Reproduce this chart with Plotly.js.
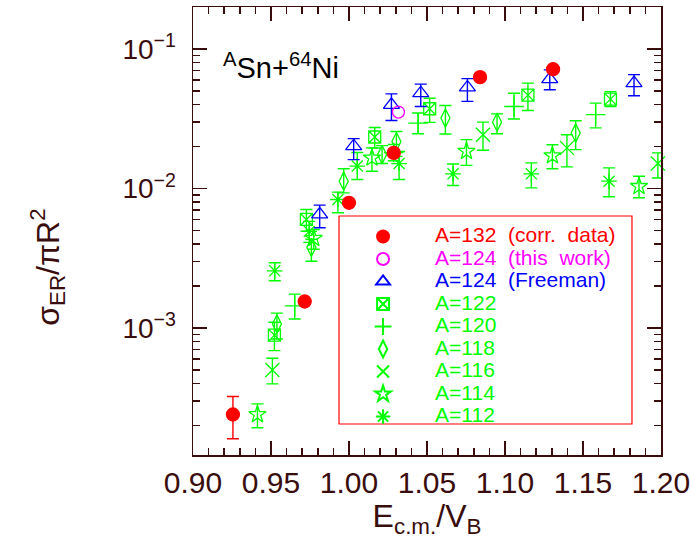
<!DOCTYPE html>
<html>
<head>
<meta charset="utf-8">
<script src="https://cdn.plot.ly/plotly-3.0.1.min.js"></script>
<style>html,body{margin:0;padding:0;background:#fff;}#chart{width:691px;height:552px;}</style>
</head>
<body>
<div id="chart"></div>
<script>
// ---- data ----
// A=132 (corr. data)
const a132X  = [0.9256, 0.9716, 1.0000, 1.0287, 1.0840, 1.1308];
const a132Y  = [2.40e-4, 1.55e-3, 7.9e-3, 0.0180, 0.0628, 0.0716];
const a132Hi = [3.23e-4, 1.55e-3, 7.9e-3, 0.0180, 0.0628, 0.0716];
const a132Lo = [1.61e-4, 1.55e-3, 7.9e-3, 0.0180, 0.0628, 0.0716];
// A=124 (this work)
const a124tX = [1.0317];
const a124tY = [0.0353];
// A=124 (Freeman)
const a124fX  = [0.9812, 1.0030, 1.0272, 1.0460, 1.0759, 1.1287, 1.1827];
const a124fY  = [6.52e-3, 0.0201, 0.0398, 0.0482, 0.0530, 0.0608, 0.0569];
const a124fHi = [7.6e-3, 0.0228, 0.0477, 0.0560, 0.0613, 0.0708, 0.0655];
const a124fLo = [5.24e-3, 0.0161, 0.0307, 0.0387, 0.0421, 0.0510, 0.0462];
// A=122
const a122X  = [0.9522, 0.9727, 1.0165, 1.0517, 1.1147, 1.1676];
const a122Y  = [8.9e-4, 6.0e-3, 0.0234, 0.0373, 0.0467, 0.0437];
const a122Hi = [1.10e-3, 7.08e-3, 0.0274, 0.0444, 0.0569, 0.0495];
const a122Lo = [6.89e-4, 4.95e-3, 0.0195, 0.0298, 0.0362, 0.0387];
// A=120
const a120X  = [0.9652, 1.0287, 1.0443, 1.1058, 1.1581];
const a120Y  = [1.44e-3, 0.0181, 0.0294, 0.0387, 0.0338];
const a120Hi = [1.75e-3, 0.0207, 0.0348, 0.0482, 0.0409];
const a120Lo = [1.16e-3, 0.0158, 0.0247, 0.0315, 0.0272];
// A=118
const a118X  = [0.9538, 0.9759, 0.9966, 1.0212, 1.0304, 1.0618, 1.0949, 1.1453];
const a118Y  = [1.07e-3, 3.79e-3, 0.01128, 0.0175, 0.0217, 0.0320, 0.0299, 0.0250];
const a118Hi = [1.28e-3, 4.33e-3, 0.01385, 0.0203, 0.0256, 0.0394, 0.0343, 0.0306];
const a118Lo = [8.34e-4, 3.01e-3, 9.3e-3, 0.0151, 0.0170, 0.0246, 0.0247, 0.0190];
// A=116
const a116X  = [0.9509, 1.0859, 1.1397, 1.1980];
const a116Y  = [5.0e-4, 0.0243, 0.01955, 0.0151];
const a116Hi = [6.08e-4, 0.0299, 0.0243, 0.0180];
const a116Lo = [3.98e-4, 0.0188, 0.0143, 0.0119];
// A=114
const a114X  = [0.9413, 0.9774, 1.0147, 1.0753, 1.1304, 1.1859];
const a114Y  = [2.40e-4, 4.40e-3, 0.01656, 0.0185, 0.0172, 0.01037];
const a114Hi = [2.86e-4, 5.09e-3, 0.01955, 0.0224, 0.0206, 0.01225];
const a114Lo = [1.93e-4, 3.67e-3, 0.01331, 0.01466, 0.01385, 8.59e-3];
// A=112
const a112X  = [0.9524, 0.9745, 0.9929, 1.0053, 1.0321, 1.0667, 1.1169, 1.1667];
const a112Y  = [2.57e-3, 4.93e-3, 8.34e-3, 0.01449, 0.0151, 0.01274, 0.01274, 0.01128];
const a112Hi = [2.94e-3, 5.81e-3, 9.42e-3, 0.0181, 0.0184, 0.0150, 0.01528, 0.01406];
const a112Lo = [2.18e-3, 4.11e-3, 6.70e-3, 0.0116, 0.0116, 0.0105, 0.0101, 8.73e-3];

// tick labels
const xTickVals = [0.90, 0.95, 1.00, 1.05, 1.10, 1.15, 1.20];
const xTickText = ['0.90', '0.95', '1.00', '1.05', '1.10', '1.15', '1.20'];
const yTickVals = [1e-3, 1e-2, 1e-1];
const yTickText = ['10<sup>\u22123</sup>', '10<sup>\u22122</sup>', '10<sup>\u22121</sup>'];

// ---- styling ----
const AX = '#3a0d0d';
const FONT = 'Liberation Sans, Arial, sans-serif';
const RED = '#ff0000', MAG = '#ff00ff', BLUE = '#0000ff', GREEN = '#00ff00';
const NB = '\u00a0';

function lab(txt, color) {
  return '<span style="color:' + color + ';font-size:21px">' + txt + '</span>';
}
function errs(y, hi, lo, color) {
  return {
    type: 'data', symmetric: false,
    array: y.map((v, i) => hi[i] - v),
    arrayminus: y.map((v, i) => v - lo[i]),
    color: color, thickness: 1.4, width: 6
  };
}
function series(x, y, hi, lo, color, symbol, size, name, rank) {
  const t = {
    type: 'scatter', mode: 'markers', x: x, y: y,
    name: lab(name, color), legendrank: rank,
    marker: { symbol: symbol, size: size, color: color, line: { color: color, width: 1.3 } },
    cliponaxis: false
  };
  if (hi) t.error_y = errs(y, hi, lo, color);
  return t;
}

const traces = [
  series(a112X, a112Y, a112Hi, a112Lo, GREEN, 'asterisk-open', 13, 'A=112', 9),
  series(a114X, a114Y, a114Hi, a114Lo, GREEN, 'star-open', 13, 'A=114', 8),
  series(a116X, a116Y, a116Hi, a116Lo, GREEN, 'x-thin-open', 14, 'A=116', 7),
  series(a118X, a118Y, a118Hi, a118Lo, GREEN, 'diamond-tall-open', 13, 'A=118', 6),
  series(a120X, a120Y, a120Hi, a120Lo, GREEN, 'cross-thin-open', 14, 'A=120', 5),
  series(a122X, a122Y, a122Hi, a122Lo, GREEN, 'square-x-open', 12, 'A=122', 4),
  series(a124fX, a124fY, a124fHi, a124fLo, BLUE, 'triangle-up-open', 14, 'A=124' + NB + NB + '(Freeman)', 3),
  series(a124tX, a124tY, null, null, MAG, 'circle-open', 12, 'A=124' + NB + NB + '(this' + NB + NB + 'work)', 2),
  series(a132X, a132Y, a132Hi, a132Lo, RED, 'circle', 13, 'A=132' + NB + NB + '(corr.' + NB + NB + 'data)', 1)
];

const yMinor = [];
for (let e = -4; e <= -1; e++) {
  for (let d = 2; d <= 9; d++) yMinor.push(d * Math.pow(10, e));
}

const layout = {
  width: 691, height: 552,
  margin: { l: 193, r: 30, t: 7, b: 97, pad: 0 },
  paper_bgcolor: '#ffffff', plot_bgcolor: '#ffffff',
  font: { family: FONT, color: AX },
  showlegend: true,
  legend: {
    x: 0.295, y: 0.524, xanchor: 'left', yanchor: 'top',
    bgcolor: 'rgba(0,0,0,0)', borderwidth: 0,
    font: { family: FONT, size: 15, color: AX },
    itemwidth: 94, itemsizing: 'constant', itemclick: false
  },
  xaxis: {
    range: [0.9, 1.2], tickmode: 'array', tickvals: xTickVals, ticktext: xTickText,
    ticks: 'inside', ticklen: 14, tickwidth: 1.5, tickcolor: AX,
    minor: { dtick: 0.01, tick0: 0.9, ticks: 'inside', ticklen: 7, tickwidth: 1.5, tickcolor: AX },
    showline: true, linecolor: AX, linewidth: 1.5, mirror: 'allticks',
    showgrid: false, zeroline: false,
    tickfont: { family: FONT, size: 30, color: AX },
    ticklabelstandoff: 0,
    title: { text: 'E<sub>c.m.</sub>/V<sub>B</sub>', font: { family: FONT, size: 32, color: AX }, standoff: 6 }
  },
  yaxis: {
    type: 'log', range: [-3.91, -0.699],
    tickmode: 'array', tickvals: yTickVals, ticktext: yTickText,
    ticks: 'inside', ticklen: 14, tickwidth: 1.5, tickcolor: AX,
    minor: { tickmode: 'array', tickvals: yMinor, ticks: 'inside', ticklen: 7, tickwidth: 1.5, tickcolor: AX },
    showline: true, linecolor: AX, linewidth: 1.5, mirror: 'allticks',
    showgrid: false, zeroline: false,
    tickfont: { family: FONT, size: 28, color: AX },
    ticklabelstandoff: 10
  },
  shapes: [{
    type: 'rect', xref: 'paper', yref: 'paper',
    x0: 0.312, x1: 0.938, y0: 0.0692, y1: 0.5335,
    line: { color: RED, width: 1.2 }, fillcolor: 'rgba(0,0,0,0)', layer: 'above'
  }],
  annotations: [
    {
      text: '<sup>A</sup>Sn+<sup>64</sup>Ni', xref: 'paper', yref: 'paper',
      x: 0.06, y: 0.868, xanchor: 'left', yanchor: 'middle', showarrow: false,
      font: { family: FONT, size: 29, color: '#000000' }
    },
    {
      text: '\u03c3<sub>ER</sub>/\u03c0R<sup>2</sup>', xref: 'paper', yref: 'paper',
      x: -0.31, y: 0.42, xanchor: 'center', yanchor: 'middle', showarrow: false,
      textangle: -90, font: { family: FONT, size: 32, color: AX }
    }
  ]
};

Plotly.newPlot('chart', traces, layout, { displayModeBar: false, staticPlot: true });
</script>
</body>
</html>
